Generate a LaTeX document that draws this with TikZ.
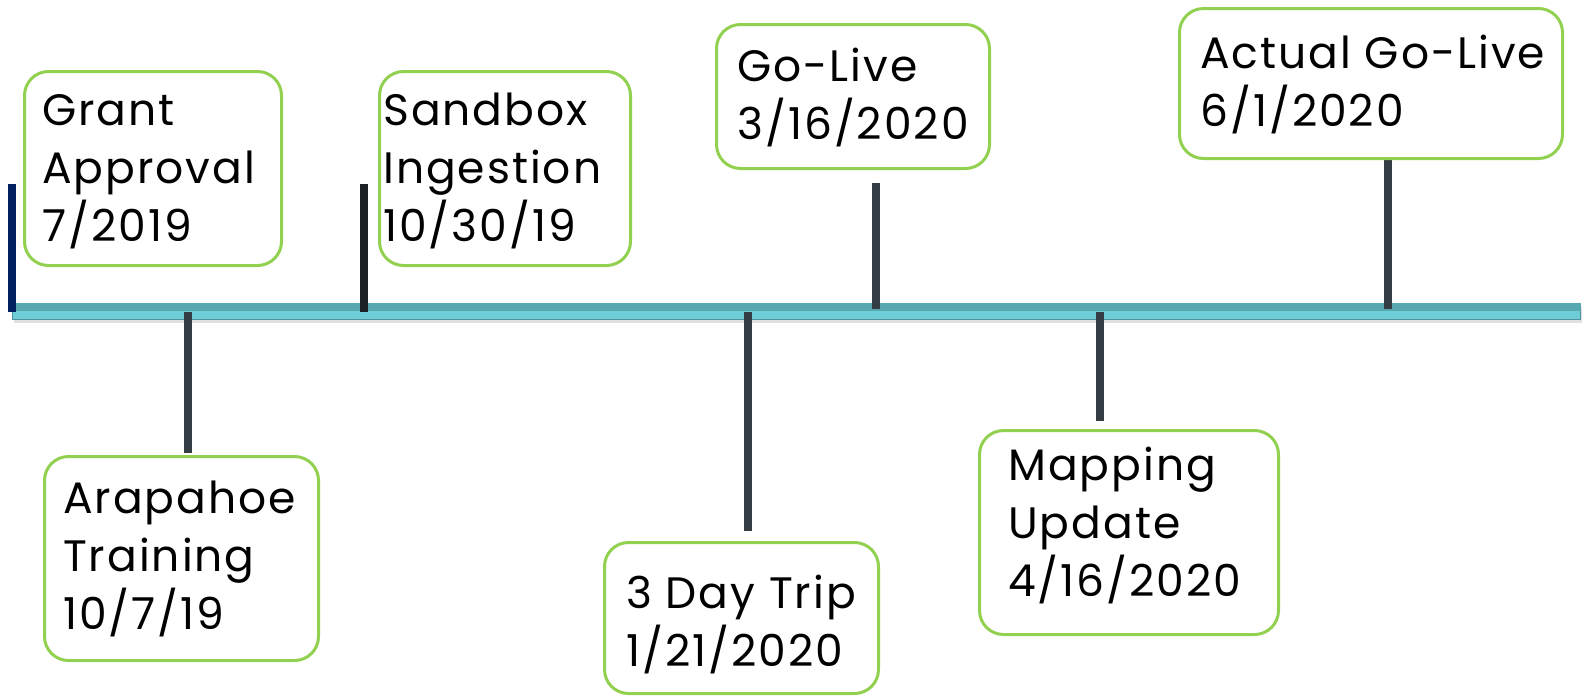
\documentclass[tikz,border=0pt]{standalone}
\usepackage{fontspec}
\setmainfont[LetterSpace=4.5]{Poppins}
\usetikzlibrary{shadows}
\definecolor{boxgreen}{HTML}{92D050}
\definecolor{navytick}{HTML}{002060}
\definecolor{blacktick}{HTML}{1B2125}
\definecolor{graytick}{HTML}{343C44}
\definecolor{barlight}{HTML}{6FCDD8}
\definecolor{bardark}{HTML}{58A8B1}
\definecolor{baredge}{HTML}{4E939B}
\begin{document}
\begin{tikzpicture}[x=1pt,y=-1pt,
  evbox/.style={draw=boxgreen, line width=3pt, rounded corners=24pt, fill=white, inner sep=0pt, anchor=north west},
  evtext/.style={anchor=base west, inner sep=0pt, font=\fontsize{44}{58}\selectfont},
  tickline/.style={line width=8pt}]
\useasboundingbox (0,0) rectangle (1582,697);
% timeline bar
\node[anchor=north west, minimum width=1568pt, minimum height=16pt, inner sep=0pt,
      fill=barlight, draw=baredge, line width=0.8pt,
      drop shadow={shadow xshift=2pt, shadow yshift=-4pt, opacity=.25}] (bar) at (12,303) {};
\fill[bardark] (bar.north west) rectangle (bar.east);
% ticks
\coordinate (k1a) at (12,184);   \coordinate (k1b) at (12,312);
\coordinate (k2a) at (364,184);  \coordinate (k2b) at (364,312);
\coordinate (k3a) at (188,312);  \coordinate (k3b) at (188,453);
\coordinate (k4a) at (748,312);  \coordinate (k4b) at (748,531);
\coordinate (k5a) at (876,183);  \coordinate (k5b) at (876,309);
\coordinate (k6a) at (1100,312); \coordinate (k6b) at (1100,421);
\coordinate (k7a) at (1388,157); \coordinate (k7b) at (1388,309);
\draw[tickline, navytick] (k1a) -- (k1b);
\draw[tickline, blacktick] (k2a) -- (k2b);
\draw[tickline, graytick] (k3a) -- (k3b);
\draw[tickline, graytick] (k4a) -- (k4b);
\draw[tickline, graytick] (k5a) -- (k5b);
\draw[tickline, graytick] (k6a) -- (k6b);
\draw[tickline, graytick] (k7a) -- (k7b);
% boxes
\node[evbox, minimum width=257pt, minimum height=194pt] (b1) at (23,70) {};
\node[evbox, minimum width=251pt, minimum height=194pt] (b2) at (378,70) {};
\node[evbox, minimum width=273pt, minimum height=144pt] (b3) at (715,23) {};
\node[evbox, minimum width=383pt, minimum height=150pt] (b4) at (1178,7) {};
\node[evbox, minimum width=274pt, minimum height=204pt] (b5) at (43,455) {};
\node[evbox, minimum width=274pt, minimum height=151pt] (b6) at (603,541) {};
\node[evbox, minimum width=299pt, minimum height=204pt] (b7) at (978,429) {};
% texts
\node[evtext] (t1) at (42,125) {\parbox[t]{400pt}{\raggedright Grant\\Approval\\7/2019}};
\node[evtext] (t2) at (383,125) {\parbox[t]{400pt}{\raggedright Sandbox\\Ingestion\\10/30/19}};
\node[evtext] (t3) at (737,81) {\parbox[t]{400pt}{\raggedright Go-Live\\3/16/2020}};
\node[evtext] (t4) at (1200,68) {\parbox[t]{400pt}{\raggedright Actual Go-Live\\6/1/2020}};
\node[evtext] (t5) at (63,513) {\parbox[t]{400pt}{\raggedright Arapahoe\\Training\\10/7/19}};
\node[evtext] (t6) at (626,608) {\parbox[t]{400pt}{\raggedright 3 Day Trip\\1/21/2020}};
\node[evtext] (t7) at (1008,480) {\parbox[t]{400pt}{\raggedright Mapping\\Update\\4/16/2020}};
\end{tikzpicture}
\end{document}
